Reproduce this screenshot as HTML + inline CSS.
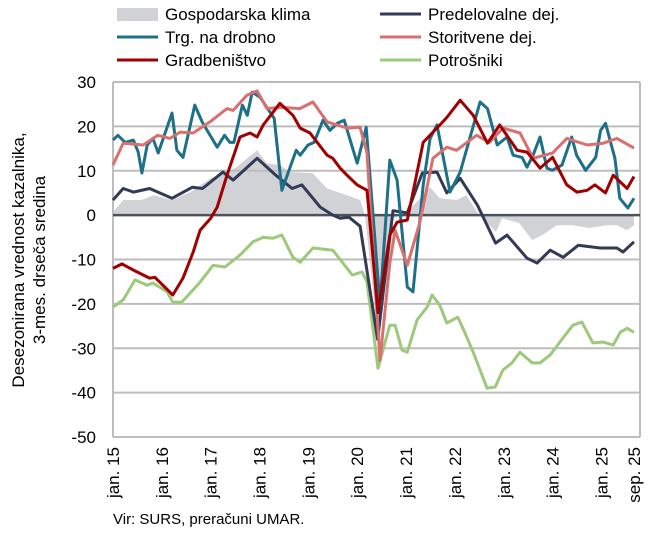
<!DOCTYPE html>
<html><head><meta charset="utf-8">
<style>
body{margin:0;background:#fff;width:651px;height:532px;overflow:hidden;font-family:"Liberation Sans",sans-serif;}
svg text{font-family:"Liberation Sans",sans-serif;fill:#000;}
</style></head>
<body>
<svg id="chart" width="651" height="532" viewBox="0 0 651 532" xmlns="http://www.w3.org/2000/svg"></svg>
<script>
// Month index (0 = jan 2015) and values per series
const climateMonths = [0,2.5,7,10,14.5,19,24,30,35.4,37.8,41,43.5,49,52.6,57.5,60.7,61.9,65,68.8,72.3,77.9,80.3,84.4,86.8,90,94.1,95.6,99.8,103,105.5,109,112.9,117,121.3,123.8,126.3,128];
const climateVals = [0.7,3.4,3.4,4.5,3.4,5.2,8.3,10.6,14.6,11.7,11.3,9.7,9.5,6,4.5,3.4,0,-27,-0.7,0.7,6.3,3.8,3.4,4.5,0,-3.8,-0.7,-1.8,-5.6,-4.5,-2.3,-2.3,-2.9,-2.3,-2.3,-3.4,-2.3];

const manMonths = [0,2.5,5,9,14.5,19.5,22,27,29.5,35.4,40,44,46.4,50.9,54,55.8,58,60.7,65,68.8,72.3,76,79.6,82,85.3,89.5,94,96.8,101.7,104.2,107.4,110.6,114.3,119.7,123.8,125.3,128];
const manVals = [3.4,6,5.2,6,3.8,6.3,6,9.7,7.9,12.8,9,6,6.8,1.8,0,-0.7,-0.5,-2.5,-28,1,0.5,9.5,9.7,5,8.3,2.3,-6.3,-4.5,-9.7,-10.8,-7.9,-9.5,-6.8,-7.4,-7.4,-8.3,-6];

const retMonths = [0,1.2,3,5,6.2,7.1,8.4,9.8,11.1,14.5,15.7,17.2,20.1,21.9,25.6,27.4,28.7,29.7,31.8,33,34.2,36.1,39.6,41.5,43.7,45,46,47.9,49.4,51.6,53.3,55.1,56.8,58.8,60,62.2,65.6,68,69.8,72.3,73.7,76.2,77.9,79.6,82.8,85.3,90.2,92,94.4,96.8,98.3,100.5,101.7,103.2,104.9,106.6,107.9,110.3,112.7,113.9,116.1,118.6,119.8,121,123.3,124.5,126.5,128];
const retVals = [16.9,18,16.4,16.9,14.2,9.5,15.8,17.3,14,23,14.6,13,24.8,21,15.3,18,16.4,16.4,24.8,22.5,27.7,26.6,21.8,5.6,11.3,14.6,13.5,15.8,16.4,21.4,19.1,20.7,21.4,15.3,11.7,19.8,-20.3,12.4,7.9,-16.2,-17.3,6.8,17.3,20.3,5.2,9.7,25.5,24,15.8,17.6,13.5,13,10.8,13.5,17.6,10.6,10.1,11.3,17.6,13.5,10.1,13,19.1,20.7,12.8,3.8,1.6,3.8];

const svcMonths = [0,2.5,7.4,11,14,16.5,19.7,23.8,28,29.5,32.9,35.4,37.8,41,45.9,49.1,52.6,57.5,60.7,62.4,65.6,68,69.3,72.3,75.4,78.6,82,84.4,89.3,92.5,95.8,100,103.2,108,111.5,116.5,120.4,123.8,128];
const svcVals = [11.3,16.2,15.8,18,17.3,18.7,18.5,21,24,23.6,27,28,24,24.3,24,25.5,21,19.6,19.8,14,-32.7,-10.8,-3.4,-11.3,-1.6,12.8,15.3,14.6,18,16.4,19.6,18.5,12.8,14,17.3,15.8,16.2,17.3,15.1];

const conMonths = [0,2.2,5,9,10.3,14.7,17.2,19.7,21.4,24,25.6,28,31.2,33.7,35.4,36.9,41,44.2,46,48.4,52.6,54,55.8,57.5,60,62.4,65.1,68,69.8,72.3,76.2,80.3,82,85.3,88.5,92,95,99.3,101.7,104.9,108,111.5,114,116.5,118.4,121,122.9,126.3,128];
const conVals = [-12,-11,-12.4,-14.2,-14,-18,-14.2,-8.3,-3.4,-0.7,1.8,9,17.6,18.5,17.6,20.3,25.2,22.5,19.6,18.5,13.5,12.8,10.6,9,6.8,5.6,-22,-4.5,-1.6,-1.1,16.4,20.3,22,25.9,22.5,16.2,20.3,14.6,14.2,10.6,13,6.8,5.2,5.6,6.8,5,9,6,8.7];

const cnsMonths = [0,2.5,5.4,8.4,9.8,13.3,14.7,16.9,21.4,24.6,27.5,31.2,34.4,36.9,39.3,41.5,44.2,46,49.1,54,58.8,61.2,62.4,65.1,68,69.3,71,72.3,74.7,77.2,78.4,80.3,82,84.7,86.4,88.5,91.9,93.9,95.8,98,100,103,104.9,107.4,109.8,113,115.2,117.9,120.4,122.9,124.6,126.3,128];
const cnsVals = [-20.7,-19.1,-14.6,-15.8,-15.3,-17.3,-19.6,-19.6,-15.1,-11.3,-11.7,-9,-6,-5,-5.2,-4.5,-9.5,-10.6,-7.4,-7.9,-13.5,-12.8,-15.1,-34.5,-24.8,-24.8,-30.4,-30.9,-23.6,-20.7,-18,-20.3,-24.3,-23,-26.4,-30.9,-39,-38.7,-34.9,-33.3,-30.9,-33.3,-33.3,-31.5,-28.6,-24.8,-24.1,-28.8,-28.6,-29.3,-26.4,-25.5,-26.4];

const yTicks = [30,20,10,0,-10,-20,-30,-40,-50];
const xTickMonths = [0,12,24,36,48,60,72,84,96,108,120,128];
const xTickLabels = ["jan. 15","jan. 16","jan. 17","jan. 18","jan. 19","jan. 20","jan. 21","jan. 22","jan. 23","jan. 24","jan. 25","sep. 25"];

const NS="http://www.w3.org/2000/svg";
const svg=document.getElementById('chart');
const L=113,R=640,T=82,B=437;
const x=m=>L+m*(634-113)/128;
const y=v=>T+(30-v)*(B-T)/80;
function mk(tag,attrs,parent){const e=document.createElementNS(NS,tag);for(const k in attrs)e.setAttribute(k,attrs[k]);(parent||svg).appendChild(e);return e;}
function pts(ms,vs){return ms.map((m,i)=>x(m).toFixed(1)+','+y(vs[i]).toFixed(1)).join(' ');}

let d='M'+x(climateMonths[0])+','+y(0)+' L'+pts(climateMonths,climateVals).replace(/ /g,' L')+' L'+x(climateMonths[climateMonths.length-1])+','+y(0)+'Z';
const area=mk('path',{d:d,fill:'#d0d2d5'});



yTicks.forEach(v=>{
 if(v!==0){const g=mk('line',{x1:L,x2:R,y1:y(v),y2:y(v),stroke:'#bdbdbd','stroke-width':2});
 
 }
 const t=mk('text',{x:96,y:y(v)+6,'text-anchor':'end','font-size':17});
 t.textContent=v;
 
 
});
const rb=mk('line',{x1:R,x2:R,y1:T,y2:B,stroke:'#bdbdbd','stroke-width':2});


const lb=mk('line',{x1:L,x2:L,y1:T,y2:B,stroke:'#bdbdbd','stroke-width':2});


const zl=mk('line',{x1:L,x2:R,y1:y(0),y2:y(0),stroke:'#4d5258','stroke-width':2.5});



xTickMonths.forEach((m,i)=>{
 const t=mk('text',{transform:'translate('+(x(m)+6)+',447) rotate(-90)','text-anchor':'end','font-size':17});
 t.textContent=xTickLabels[i];
 
 
});

const series=[[cnsMonths,cnsVals,'#9dc97b','consumers-line'],[manMonths,manVals,'#323a56','manufacturing-line'],[retMonths,retVals,'#1d7088','retail-line'],[svcMonths,svcVals,'#d9706f','services-line'],[conMonths,conVals,'#a00000','construction-line']];
series.forEach(s=>{
 const p=mk('polyline',{points:pts(s[0],s[1]),fill:'none',stroke:s[2],'stroke-width':3,'stroke-linejoin':'round'});
 
 
});

const yt=mk('text',{transform:'translate(24,260) rotate(-90)','text-anchor':'middle','font-size':17});
yt.textContent='Desezonirana vrednost kazalnika,';


const yt2=mk('text',{transform:'translate(45,260) rotate(-90)','text-anchor':'middle','font-size':17});
yt2.textContent='3-mes. drseča sredina';



const leg=[['Gospodarska klima','#d0d2d5',117,14,true],['Trg. na drobno','#1d7088',117,37,false],['Gradbeništvo','#a00000',117,60,false],['Predelovalne dej.','#323a56',380,14,false],['Storitvene dej.','#d9706f',380,37,false],['Potrošniki','#9dc97b',380,60,false]];
leg.forEach(l=>{
 if(l[4]){const r=mk('rect',{x:l[2],y:l[3]-6,width:41,height:13,fill:l[1]});
  
  }
 else{const ln=mk('line',{x1:l[2],x2:l[2]+41,y1:l[3],y2:l[3],stroke:l[1],'stroke-width':3});
  
  }
 const t=mk('text',{x:l[2]+48,y:l[3]+6,'font-size':17});
 t.textContent=l[0];
 
 
});

const src=mk('text',{x:113,y:524,'font-size':15});
src.textContent='Vir: SURS, preračuni UMAR.';


</script>
</body></html>
